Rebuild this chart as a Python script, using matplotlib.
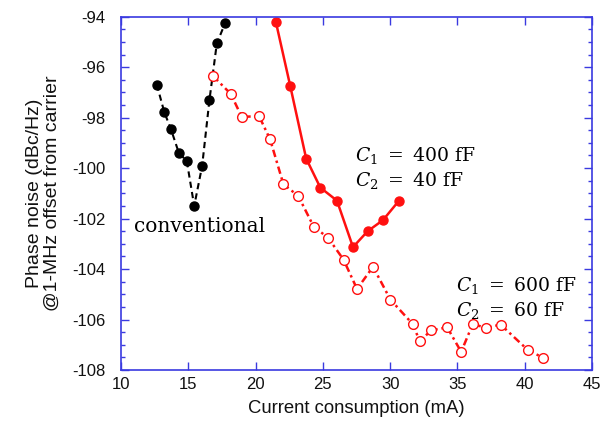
import numpy as np
import matplotlib
matplotlib.use("Agg")
import matplotlib.pyplot as plt
from matplotlib.ticker import MultipleLocator

# conventional VCO
conv_current = [12.66, 13.22, 13.70, 14.30, 14.89, 15.44, 16.03, 16.57, 17.12, 17.74]
conv_noise = [-96.69, -97.79, -98.44, -99.40, -99.72, -101.50, -99.91, -97.31, -95.06, -94.25]

# C1 = 400 fF, C2 = 40 fF
c400_current = [21.51, 22.57, 23.76, 24.81, 26.05, 27.24, 28.33, 29.47, 30.66]
c400_noise = [-94.21, -96.73, -99.62, -100.77, -101.29, -103.13, -102.50, -102.06, -101.29]

# C1 = 600 fF, C2 = 60 fF
c600_current = [16.82, 18.16, 18.97, 20.26, 21.08, 22.07, 23.17, 24.32, 25.39, 26.54,
                27.54, 28.73, 30.02, 31.68, 32.20, 33.05, 34.24, 35.28, 36.14, 37.14,
                38.21, 40.22, 41.38]
c600_noise = [-96.34, -97.06, -97.97, -97.94, -98.86, -100.64, -101.10, -102.32, -102.76, -103.63,
              -104.79, -103.91, -105.21, -106.18, -106.86, -106.43, -106.31, -107.28, -106.18, -106.33,
              -106.20, -107.20, -107.52]

plt.rcParams['mathtext.fontset'] = 'dejavuserif'
plt.rcParams['axes.unicode_minus'] = False
plt.rcParams['font.family'] = ['Liberation Sans', 'DejaVu Sans']

fig = plt.figure(figsize=(6.13, 4.25), dpi=100)
ax = fig.add_axes([0.1974, 0.1294, 0.7683, 0.8313])

red = '#ff1010'
ax.plot(conv_current, conv_noise, color='black', linestyle=(0, (3, 2)), linewidth=1.5,
        marker='o', markersize=6.5, markerfacecolor='black', markeredgecolor='black', clip_on=False)
ax.plot(c400_current, c400_noise, color=red, linestyle='-', linewidth=1.8,
        marker='o', markersize=6.5, markerfacecolor=red, markeredgecolor=red, clip_on=False)
ax.plot(c600_current, c600_noise, color=red, linestyle=(0, (3, 1.5, 1, 1.5)), linewidth=1.8,
        marker='o', markersize=7, markerfacecolor='white', markeredgecolor=red,
        markeredgewidth=1.0, clip_on=False)

ax.set_xlim(10, 45)
ax.set_ylim(-108, -94)
ax.xaxis.set_major_locator(MultipleLocator(5))
ax.yaxis.set_major_locator(MultipleLocator(2))
ax.yaxis.set_minor_locator(MultipleLocator(0.5))

blue = '#3a3ae0'
for s in ax.spines.values():
    s.set_color(blue)
    s.set_linewidth(1.2)
ax.tick_params(which='both', direction='in', top=True, right=True, color=blue,
               labelsize=12, labelcolor='#111111')
ax.tick_params(which='major', length=6, width=1.0)
ax.tick_params(axis='y', which='major', pad=11)
ax.tick_params(axis='x', which='major', pad=5)
ax.tick_params(which='minor', length=3, width=1.0)

ax.set_xlabel("Current consumption (mA)", fontsize=13.3, color='#111111', labelpad=6)
ax.set_ylabel("Phase noise (dBc/Hz)\n@1-MHz offset from carrier", fontsize=14, color='#111111',
              linespacing=1.1, labelpad=8)

serif = ['DejaVu Serif']
ax.text(11.0, -102.3, "conventional", fontsize=14.5, family=serif, va='center', ha='left')
ax.text(27.4, -100.0, r"$C_1\ =\ 400\ \mathrm{fF}$" + "\n" + r"$C_2\ =\ 40\ \mathrm{fF}$",
        fontsize=13.5, va='center', ha='left', linespacing=1.25)
ax.text(34.9, -105.15, r"$C_1\ =\ 600\ \mathrm{fF}$" + "\n" + r"$C_2\ =\ 60\ \mathrm{fF}$",
        fontsize=13.5, va='center', ha='left', linespacing=1.25)

fig.savefig("out.png", dpi=100)
